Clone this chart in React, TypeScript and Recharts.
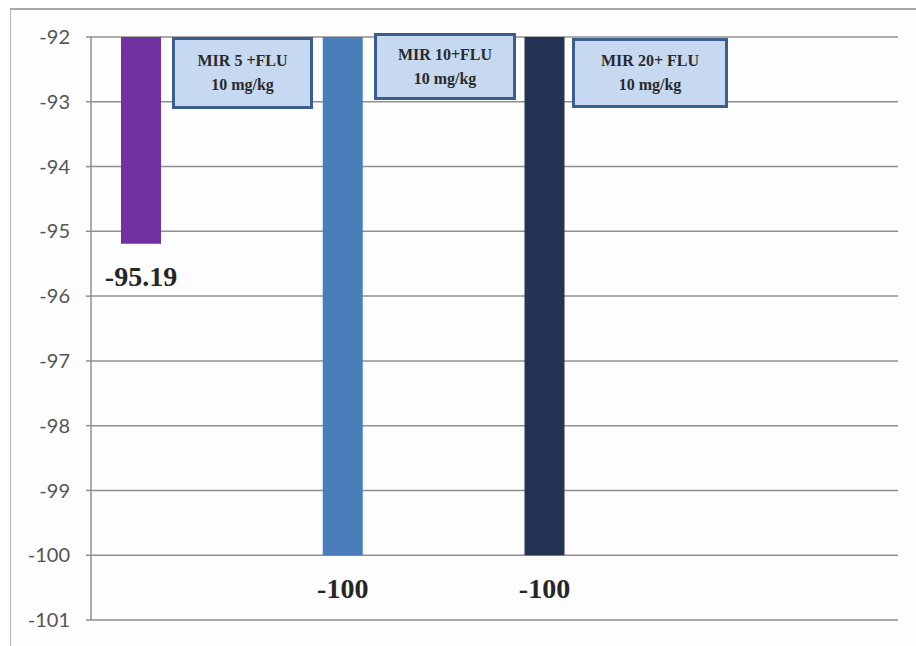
import React from "react"
import { BarChart, Bar, XAxis, YAxis, CartesianGrid, Cell, LabelList } from "recharts"

const groups = ["MIR 5 +FLU", "MIR 10+FLU", "MIR 20+ FLU"]
const dose = "10 mg/kg"
const values = [-95.19, -100, -100]
const barColors = ["#7131a1", "#4a7ebb", "#233354"]
const yTicks = [-92, -93, -94, -95, -96, -97, -98, -99, -100, -101]
const SLOTS = 8

// each group sits in its own slot, followed by an empty one
const rows: { name: string; value: number | null; color: string }[] = []
groups.forEach((g, i) => {
  rows.push({ name: g, value: values[i], color: barColors[i] })
  rows.push({ name: `gap-${i}`, value: null, color: "none" })
})
while (rows.length < SLOTS) rows.push({ name: `gap-${rows.length}`, value: null, color: "none" })

const boxes = [
  { left: 161, top: 27, width: 141, height: 72 },
  { left: 363, top: 23, width: 142, height: 67 },
  { left: 561, top: 28, width: 156, height: 70 },
]

const BarLabel = (props: any) => {
  const { x, y, width, height, value } = props
  if (value == null) return null
  const bottom = Math.max(y, y + height)
  return (
    <text x={x + width / 2} y={bottom + 33} textAnchor="middle" dominantBaseline="central"
      fontFamily="'Liberation Serif', 'Times New Roman', serif" fontWeight="bold" fontSize={28} fill="#262626">
      {value}
    </text>
  )
}

export default function App() {
  return (
    <div>
      <style>{"body{margin:0;overflow:hidden;background:#fff}"}</style>
      <div style={{ position: "absolute", left: 10, top: 8, width: 905, height: 636, borderTop: "2px solid #a8a8a8", borderLeft: "1px solid #b4b4b4", background: "#fdfdfd" }}>
        <BarChart width={905} height={636} data={rows} margin={{ top: 27, right: 18, left: 0, bottom: 26 }} barSize={40}>
          <CartesianGrid vertical={false} stroke="#8f8f8f" strokeWidth={1.5} />
          <XAxis dataKey="name" hide />
          <YAxis type="number" domain={[-101, -92]} ticks={yTicks} interval={0} width={80}
            axisLine={{ stroke: "#8f8f8f", strokeWidth: 1.5 }} tickLine={{ stroke: "#8f8f8f", strokeWidth: 1.5 }}
            tickSize={5} tickMargin={16}
            tick={{ fontSize: 20, fill: "#555", fontFamily: "Lato, sans-serif" }} />
          <Bar dataKey="value" isAnimationActive={false}>
            {rows.map((r, i) => <Cell key={i} fill={r.color} />)}
            <LabelList dataKey="value" content={BarLabel} />
          </Bar>
        </BarChart>
        {boxes.map((b, i) => (
          <div key={i} style={{
            position: "absolute", left: b.left, top: b.top, width: b.width, height: b.height, boxSizing: "border-box",
            border: "3px solid #3a5f8c", background: "#c6d9f1", display: "flex", flexDirection: "column",
            alignItems: "center", justifyContent: "center", fontFamily: "'Liberation Serif', 'Times New Roman', serif", fontWeight: "bold",
            fontSize: 16, lineHeight: "24px", color: "#2a2a2a",
          }}>
            <div>{groups[i]}</div>
            <div>{dose}</div>
          </div>
        ))}
      </div>
    </div>
  )
}
